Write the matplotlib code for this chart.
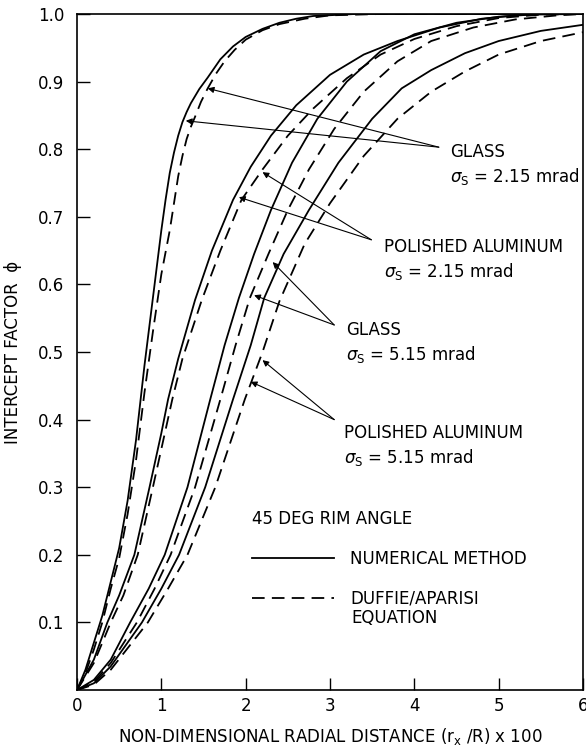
import matplotlib
matplotlib.use("Agg")
import matplotlib.pyplot as plt

plt.rcParams['font.family'] = ['DejaVu Sans']
plt.rcParams['mathtext.fontset'] = 'dejavusans'

# intercept factor curves, 45 deg rim angle
glass_215_num_x = [0, 0.1, 0.2, 0.3, 0.4, 0.5, 0.6, 0.7, 0.8, 0.9, 1.0, 1.05, 1.1, 1.15, 1.2, 1.25, 1.3, 1.35, 1.45, 1.55, 1.7, 1.85, 2.0, 2.2, 2.4, 2.6, 2.8, 3.3, 6.0]
glass_215_num_y = [0, 0.03, 0.07, 0.11, 0.16, 0.21, 0.28, 0.37, 0.48, 0.58, 0.68, 0.725, 0.765, 0.795, 0.82, 0.84, 0.855, 0.868, 0.889, 0.906, 0.933, 0.952, 0.966, 0.978, 0.987, 0.993, 0.997, 1.0, 1.0]
glass_215_eq_x = [0, 0.1, 0.2, 0.3, 0.4, 0.5, 0.6, 0.7, 0.8, 0.9, 1.0, 1.1, 1.2, 1.25, 1.3, 1.35, 1.4, 1.47, 1.55, 1.65, 1.75, 1.87, 2.0, 2.2, 2.4, 2.7, 3.0, 3.6, 6.0]
glass_215_eq_y = [0, 0.025, 0.06, 0.10, 0.15, 0.195, 0.26, 0.34, 0.44, 0.53, 0.615, 0.68, 0.76, 0.79, 0.815, 0.833, 0.848, 0.87, 0.89, 0.912, 0.93, 0.947, 0.962, 0.976, 0.985, 0.993, 0.998, 1.0, 1.0]

alum_215_num_x = [0, 0.2, 0.36, 0.5, 0.68, 0.86, 1.0, 1.08, 1.2, 1.4, 1.6, 1.85, 2.06, 2.3, 2.6, 3.0, 3.4, 3.8, 4.3, 4.8, 5.3, 6.0]
alum_215_num_y = [0, 0.045, 0.1, 0.14, 0.2, 0.3, 0.38, 0.43, 0.49, 0.577, 0.65, 0.725, 0.774, 0.82, 0.865, 0.91, 0.94, 0.96, 0.98, 0.993, 0.999, 1.0]
alum_215_eq_x = [0, 0.2, 0.4, 0.55, 0.72, 0.9, 1.13, 1.25, 1.48, 1.7, 1.95, 2.2, 2.5, 2.8, 3.2, 3.6, 4.0, 4.5, 5.0, 5.5, 6.0]
alum_215_eq_y = [0, 0.04, 0.1, 0.14, 0.2, 0.3, 0.43, 0.49, 0.577, 0.65, 0.725, 0.77, 0.82, 0.86, 0.905, 0.94, 0.963, 0.982, 0.994, 0.999, 1.0]

glass_515_num_x = [0, 0.2, 0.4, 0.63, 0.85, 1.04, 1.31, 1.58, 1.75, 1.92, 2.1, 2.3, 2.55, 2.85, 3.2, 3.6, 4.0, 4.5, 5.0, 5.5, 6.0]
glass_515_num_y = [0, 0.015, 0.045, 0.1, 0.15, 0.2, 0.3, 0.43, 0.51, 0.58, 0.645, 0.71, 0.78, 0.845, 0.9, 0.945, 0.97, 0.987, 0.996, 1.0, 1.0]
glass_515_eq_x = [0, 0.2, 0.4, 0.71, 0.92, 1.11, 1.40, 1.70, 1.88, 2.05, 2.27, 2.5, 2.75, 3.05, 3.4, 3.8, 4.2, 4.7, 5.2, 5.7, 6.0]
glass_515_eq_y = [0, 0.012, 0.04, 0.1, 0.15, 0.2, 0.3, 0.43, 0.51, 0.58, 0.645, 0.71, 0.77, 0.83, 0.885, 0.93, 0.96, 0.98, 0.992, 0.998, 1.0]

alum_515_num_x = [0, 0.2, 0.4, 0.77, 1.0, 1.21, 1.52, 1.85, 2.06, 2.22, 2.45, 2.75, 3.1, 3.5, 3.85, 4.2, 4.6, 5.0, 5.5, 6.0]
alum_515_num_y = [0, 0.01, 0.035, 0.1, 0.15, 0.2, 0.3, 0.43, 0.51, 0.58, 0.645, 0.71, 0.78, 0.845, 0.89, 0.917, 0.942, 0.96, 0.975, 0.984]
alum_515_eq_x = [0, 0.2, 0.4, 0.84, 1.08, 1.31, 1.64, 1.99, 2.2, 2.4, 2.7, 3.0, 3.4, 3.8, 4.2, 4.6, 5.0, 5.5, 6.0]
alum_515_eq_y = [0, 0.008, 0.03, 0.1, 0.15, 0.2, 0.3, 0.43, 0.50, 0.575, 0.66, 0.72, 0.79, 0.845, 0.885, 0.915, 0.94, 0.96, 0.973]

x_ticks = [0, 1, 2, 3, 4, 5, 6]
y_ticks = [0.1, 0.2, 0.3, 0.4, 0.5, 0.6, 0.7, 0.8, 0.9, 1.0]
y_tick_labels = ['0.1', '0.2', '0.3', '0.4', '0.5', '0.6', '0.7', '0.8', '0.9', '1.0']

# label text, where its arrows meet, and the curve points they touch
labels = [
    ('GLASS', '2.15', (4.42, 0.796), (4.29, 0.803), [(1.55, 0.89), (1.29, 0.842)]),
    ('POLISHED ALUMINUM', '2.15', (3.64, 0.655), (3.49, 0.666), [(2.2, 0.766), (1.92, 0.729)]),
    ('GLASS', '5.15', (3.19, 0.533), (3.05, 0.54), [(2.32, 0.633), (2.10, 0.584)]),
    ('POLISHED ALUMINUM', '5.15', (3.17, 0.380), (3.05, 0.40), [(2.2, 0.488), (2.06, 0.456)]),
]

fig = plt.figure(figsize=(5.86, 7.52), dpi=100)
ax = fig.add_axes([0.1314, 0.0824, 0.8635, 0.899])

solid = dict(color='black', lw=1.3)
dashed = dict(color='black', lw=1.3, dashes=(7, 4))

ax.plot(glass_215_num_x, glass_215_num_y, label='NUMERICAL METHOD', **solid)
ax.plot(glass_215_eq_x, glass_215_eq_y, label='DUFFIE/APARISI', **dashed)
ax.plot(alum_215_num_x, alum_215_num_y, **solid)
ax.plot(alum_215_eq_x, alum_215_eq_y, **dashed)
ax.plot(glass_515_num_x, glass_515_num_y, **solid)
ax.plot(glass_515_eq_x, glass_515_eq_y, **dashed)
ax.plot(alum_515_num_x, alum_515_num_y, **solid)
ax.plot(alum_515_eq_x, alum_515_eq_y, **dashed)

for name, sigma, txt, meet, tips in labels:
    ax.text(txt[0], txt[1], name, fontsize=12, va='center', ha='left')
    ax.text(txt[0], txt[1] - 0.036, r'$\sigma_{\mathrm{S}}$ = ' + sigma + ' mrad',
            fontsize=12, va='center', ha='left')
    for tip in tips:
        ax.annotate('', xy=tip, xytext=meet,
                    arrowprops=dict(arrowstyle='-|>', color='black', lw=0.8,
                                    mutation_scale=9, shrinkA=0, shrinkB=0))

leg = ax.legend(loc='upper left', bbox_to_anchor=(0.346, 0.266), frameon=False,
                title='45 DEG RIM ANGLE', alignment='left', fontsize=12,
                title_fontsize=12, handlelength=4.9, handletextpad=1.0,
                labelspacing=1.3, borderpad=0, borderaxespad=0)
ax.text(3.25, 0.107, 'EQUATION', fontsize=12, va='center', ha='left')

ax.set_xlim(0, 6)
ax.set_ylim(0, 1.0)
ax.set_xticks(x_ticks)
ax.set_yticks(y_ticks)
ax.set_yticklabels(y_tick_labels)
ax.tick_params(direction='in', length=9, width=1.0, labelsize=12)
ax.tick_params(axis='y', pad=9)
ax.tick_params(axis='x', pad=5)
for sp in ax.spines.values():
    sp.set_linewidth(1.2)

ax.set_ylabel('INTERCEPT FACTOR  ϕ', fontsize=12)
ax.yaxis.set_label_coords(-0.108, 0.5)
ax.set_xlabel(r'NON-DIMENSIONAL RADIAL DISTANCE (r$_{\mathrm{x}}$ /R) x 100', fontsize=12)
ax.xaxis.set_label_coords(0.5, -0.053)

fig.savefig('out.png', dpi=100)
